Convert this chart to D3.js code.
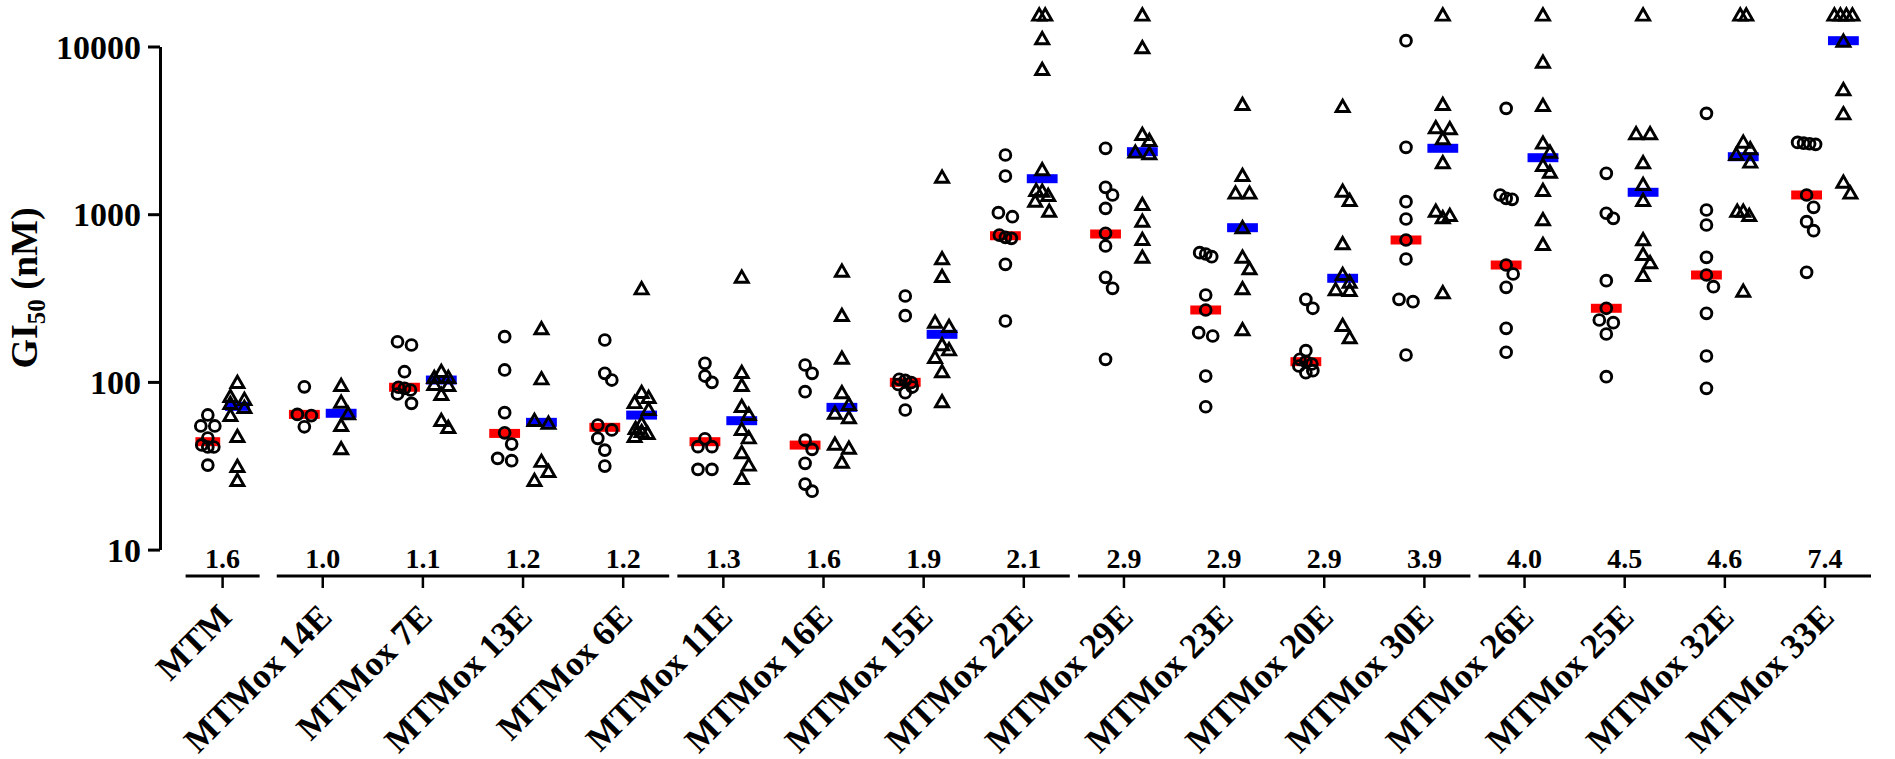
<!DOCTYPE html>
<html><head><meta charset="utf-8">
<script src="https://cdn.jsdelivr.net/npm/d3@7"></script>
<style>
body{margin:0;background:#fff;}
text{font-family:"Liberation Serif","Times New Roman",serif;font-weight:bold;fill:#000;}
</style>
</head><body>
<svg id="c" width="1895" height="759"></svg>
<script>
// ---------------- data ----------------
const categories = ["MTM","MTMox 14E","MTMox 7E","MTMox 13E","MTMox 6E","MTMox 11E","MTMox 16E","MTMox 15E","MTMox 22E","MTMox 29E","MTMox 23E","MTMox 20E","MTMox 30E","MTMox 26E","MTMox 25E","MTMox 32E","MTMox 33E"];
const groupOf = [0,1,1,1,1,2,2,2,2,3,3,3,3,4,4,4,4];
const ratios = ["1.6","1.0","1.1","1.2","1.2","1.3","1.6","1.9","2.1","2.9","2.9","2.9","3.9","4.0","4.5","4.6","7.4"];
const yTicks = [10,100,1000,10000];

// circles series (GI50, nM)
const circleValues = [
  [63.5,54.6,54.6,46.3,42.1,40.9,40.9,31.9],
  [93.5,64,63,54],
  [173.6,166,115,92.9,91.6,89.5,84.7,74.5],
  [186,117.8,65.5,49.7,42.6,35,33.9],
  [177.8,112.5,102.6,55.3,51.7,46.1,39.2,31.5],
  [129.1,108.4,99.4,45.8,41.1,41.1,30.1,30.1],
  [126.1,112.5,87.4,44.9,39.6,32.7,24.6,22.3],
  [325.3,248.2,103.6,102,99.2,96.5,93.2,86.2,68.0],
  [2254,1689,1021,966,751,728,718,502.6,230.8],
  [2472,1447,1302,1084,769.4,646.3,420.4,361.5,136.4],
  [589.4,578.9,557.9,329.8,268.4,196.6,187.8,108.4,71.1],
  [310.9,274.8,153.5,136.4,132,127.9,124.4,116.6,113.4],
  [10830,2506,1187,936.3,701.8,540.5,310.9,300.8,144.7],
  [4276,1302,1244,1227,497.7,440,366.5,208.7,150.2],
  [1753,1013,945.2,401.4,274.8,233.9,225.4,193,107.4],
  [3994,1059,862,553.4,434.1,369.6,256.4,142.7,91.6],
  [2680,2650,2630,2610,1302,1099,902.5,797.4,450.3]
];
// triangles series (GI50, nM)
const triangleValues = [
  [99.9,82.4,79.1,74.9,70.9,63.5,47.6,31.5,26.0],
  [95.8,76.2,65.0,55.3,40.2],
  [116.1,107,107,97.2,95.8,84.7,59.3,53.8],
  [208.7,105,59.3,57.1,33.8,29.4,26.0],
  [361.4,87.1,81.3,75.8,68.9,56.9,53.1,50.9,49.6,47.6],
  [424,114.6,95.8,71.8,64.4,52.4,46.7,38.1,32.1,26.7],
  [460.5,250.6,139.2,86.8,73.8,65.5,61.5,42.8,40.5,33.4],
  [1674,545.8,428,228.6,215.4,167.6,156.4,140.8,115.7,76.6],
  [15500,15500,11190,7343,1852,1394,1381,1302,1202,1049],
  [15500,9888,3006,2770,2360,2307,1150,914.6,711.5,557.9],
  [4538,1713,1344,1344,835.3,557.9,475.8,361.5,205.9],
  [4418,1381,1215,670.6,440,395.9,356.6,353.2,218.4,184.5],
  [15500,4538,3298,3253,2836,2039,1049,988.9,958.3,342.2],
  [15500,8118,4479,2670,2359,1966,1792,1394,932.4,664.2],
  [15500,3037,3037,2039,1514,1215,708.5,578.9,516.6,434.1],
  [15500,15500,2706,2472,2286,2057,1049,1049,988.9,349.8],
  [15500,15500,15500,15500,10830,5557,3994,1562,1344]
];
const circleMedians = [44,64,92.9,49.3,53.6,44,42,99.4,744,762,268.4,132,701.8,497.7,274.8,434,1302];
const triangleMedians = [71.5,65,102.6,57.4,63.4,58.7,70.5,192.2,1628,2359,830.8,414.8,2472,2172,1351,2202,10830];

// ---------------- layout ----------------
const svg = d3.select("#c");
const y = d3.scaleLog().domain([10,10000]).range([549.6,46.5]);
const gapFrac = 0.0414;
const slot = i => i + gapFrac*groupOf[i];
const nCat = categories.length;
const x = d3.scaleLinear().domain([0, slot(nCat-1)]).range([222.6, 222.6 + 100.15*slot(nCat-1)]);
const groupSize = g => groupOf.filter(v=>v===g).length;
const halfW = i => groupSize(groupOf[i]) === 1 ? 37 : 46;

// beeswarm-like horizontal spreading of overlapping points
function swarmOffsets(ys){
  const idx = d3.range(ys.length).sort((a,b)=>ys[a]-ys[b]);
  const off = new Array(ys.length).fill(0);
  const placed = [];
  let k = 0;
  while(k < idx.length){
    const row = [idx[k]]; let j = k+1;
    while(j < idx.length && ys[idx[j]] - ys[idx[k]] < 5){ row.push(idx[j]); j++; }
    if(row.length > 1){
      const step = (row.length === 2 && ys[row[0]] > 40) ? 14 : 6;
      row.forEach((r,m)=>{ off[r] = (m-(row.length-1)/2)*step; placed.push([off[r], ys[r]]); });
    } else {
      const r = row[0], yy = ys[r];
      let best = 0, bestD = -1;
      for(const c of [0,7,-7]){
        const d = placed.length ? d3.min(placed, p=>Math.hypot(p[0]-c, p[1]-yy)) : Infinity;
        if(d >= 12.5){ best = c; bestD = d; break; }
        if(d > bestD){ bestD = d; best = c; }
      }
      off[r] = best; placed.push([best, yy]);
    }
    k = j;
  }
  return off;
}

// ---------------- y axis ----------------
const yAxis = d3.axisLeft(y).tickValues(yTicks).tickFormat(d3.format("d")).tickSize(12).tickSizeOuter(0).tickPadding(7);
const ya = svg.append("g").attr("transform","translate(160,0)").call(yAxis);
ya.select(".domain").attr("stroke","#000").attr("stroke-width",3);
ya.selectAll(".tick line").attr("stroke","#000").attr("stroke-width",3);
ya.selectAll(".tick text").style("font-family","'Liberation Serif','Times New Roman',serif").style("font-weight","bold").style("font-size","34px").attr("fill","#000").attr("dy","0.34em");

const yl = svg.append("text").attr("transform","translate(37,288) rotate(-90)").attr("text-anchor","middle").style("font-size","38px");
yl.append("tspan").text("GI");
yl.append("tspan").text("50").style("font-size","25px").attr("dy","8");
yl.append("tspan").text(" (nM)").attr("dy","-8");

// ---------------- x axis (segmented) ----------------
const groups = d3.groups(d3.range(nCat), i=>groupOf[i]);
svg.selectAll("line.seg").data(groups).join("line").attr("class","seg")
  .attr("x1", d=>x(d[1][0]) - halfW(d[1][0]))
  .attr("x2", d=>x(d[1][d[1].length-1]) + halfW(d[1][d[1].length-1]))
  .attr("y1",576).attr("y2",576).attr("stroke","#000").attr("stroke-width",3.2);
svg.selectAll("line.xt").data(d3.range(nCat)).join("line").attr("class","xt")
  .attr("x1",i=>x(i)).attr("x2",i=>x(i)).attr("y1",576).attr("y2",588)
  .attr("stroke","#000").attr("stroke-width",2.5);
svg.selectAll("text.ratio").data(ratios).join("text").attr("class","ratio")
  .attr("x",(d,i)=>x(i)).attr("y",568).attr("text-anchor","middle").style("font-size","28px").text(d=>d);
svg.selectAll("text.cat").data(categories).join("text").attr("class","cat")
  .attr("transform",(d,i)=>`translate(${x(i)+11},619) rotate(-45)`)
  .attr("text-anchor","end").style("font-size","35px").text(d=>d);

// ---------------- medians ----------------
const bars = svg.append("g");
categories.forEach((c,i)=>{
  const hw = halfW(i), bw = hw*0.67;
  bars.append("rect").attr("x", x(i)-0.4*hw - bw/2).attr("y", y(circleMedians[i])-4.5)
    .attr("width", bw).attr("height", 9).attr("fill","#ff0000");
  bars.append("rect").attr("x", x(i)+0.4*hw - bw/2).attr("y", y(triangleMedians[i])-4.5)
    .attr("width", bw).attr("height", 9).attr("fill","#0000ff");
});

// ---------------- points ----------------
const pts = svg.append("g");
const triPath = "M0,-5.8L6.5,5.5L-6.5,5.5Z";
categories.forEach((c,i)=>{
  const hw = halfW(i);
  const cy = circleValues[i].map(v=>y(v));
  const co = swarmOffsets(cy);
  cy.forEach((yy,k)=>{
    pts.append("circle").attr("cx", x(i)-0.4*hw + co[k]).attr("cy", yy).attr("r",5.4)
      .attr("fill","none").attr("stroke","#000").attr("stroke-width",2.9);
  });
  const ty = triangleValues[i].map(v=>y(v));
  const to = swarmOffsets(ty);
  ty.forEach((yy,k)=>{
    pts.append("path").attr("d",triPath).attr("transform",`translate(${x(i)+0.4*hw+to[k]},${yy})`)
      .attr("fill","none").attr("stroke","#000").attr("stroke-width",2.9).attr("stroke-linejoin","miter");
  });
});
</script>
</body></html>
